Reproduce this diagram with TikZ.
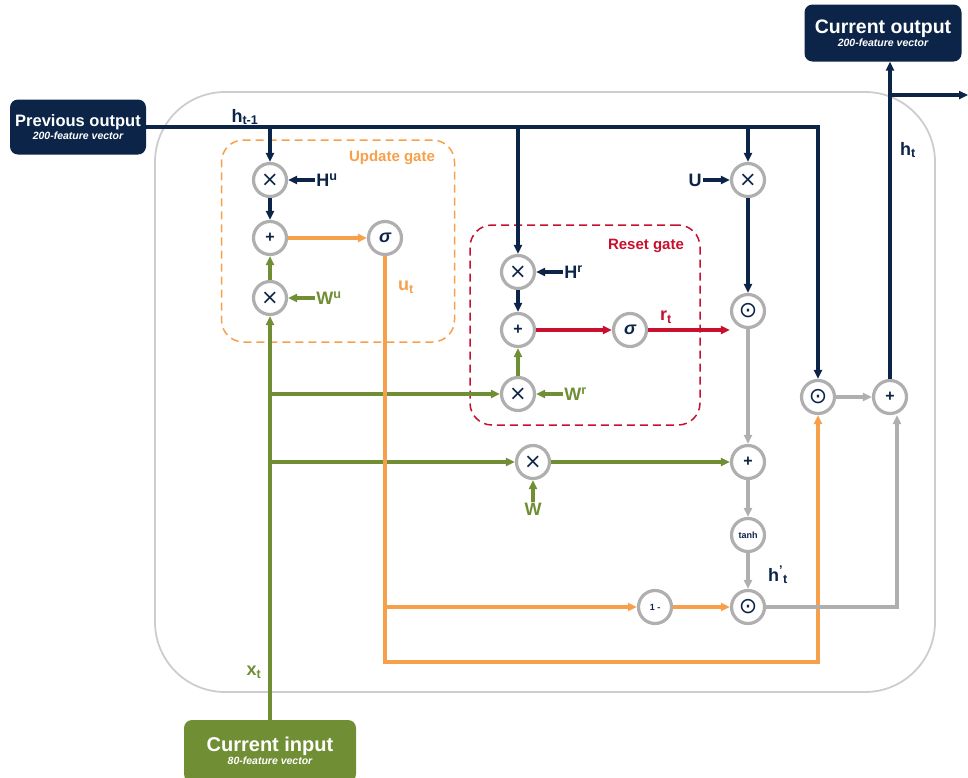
\documentclass[tikz,border=0pt]{standalone}
\usepackage{amsmath}
\usepackage{xcolor}
\usepackage{fontspec}
\setmainfont{Liberation Sans}
\newfontfamily\symfont{DejaVu Sans}
\usepackage{tikz}
\usetikzlibrary{positioning, arrows.meta}

\definecolor{navy}{RGB}{12,36,72}
\definecolor{olive}{RGB}{112,142,52}
\definecolor{gateorange}{RGB}{247,160,75}
\definecolor{gatered}{RGB}{200,16,46}
\definecolor{opgray}{RGB}{175,175,175}
\definecolor{framegray}{RGB}{205,205,205}

\newcommand{\mulsym}{{\symfont\fontsize{21}{21}\selectfont ×}}
\newcommand{\hadsym}{{\symfont\fontsize{22}{22}\selectfont ⊙}}
\newcommand{\addsym}{{\bfseries\fontsize{16}{16}\selectfont +}}
\newcommand{\sigsym}{{\bfseries\itshape\fontsize{18}{18}\selectfont σ}}

\begin{document}
\begin{tikzpicture}[
  x=1pt, y=-1pt,
  op/.style={circle, draw=opgray, line width=3.2pt, fill=white, minimum size=33pt, inner sep=0pt, text=navy},
  small/.style={font=\bfseries\fontsize{9}{9}\selectfont},
  io/.style={rounded corners=8pt, text=white, align=center, inner sep=0pt},
  gate/.style={rounded corners=22pt, dash pattern=on 8pt off 5pt, line width=1.5pt},
  lbl/.style={font=\bfseries\fontsize{18}{18}\selectfont, inner sep=1pt},
  tip/.style={-{Triangle[length=9pt, width=8pt]}},
  nline/.style={draw=navy, line width=3.2pt},
  gline/.style={draw=olive, line width=3.2pt},
  oline/.style={draw=gateorange, line width=3.2pt},
  rline/.style={draw=gatered, line width=3.2pt},
  grline/.style={draw=opgray, line width=3.2pt}
]
  \useasboundingbox (0,0) rectangle (968,777);

  % frame of the cell and the two gates
  \node[draw=framegray, line width=1.8pt, rounded corners=70pt, minimum width=780pt, minimum height=600pt] (cell) at (545,392) {};
  \node[gate, draw=gateorange, minimum width=233pt, minimum height=202pt] (updbox) at (338,241) {};
  \node[gate, draw=gatered, minimum width=230pt, minimum height=200pt] (resbox) at (585,325) {};
  \node[text=gateorange, font=\bfseries\fontsize{15}{15}\selectfont] (updlbl) at (392,158) {Update gate};
  \node[text=gatered, font=\bfseries\fontsize{15}{15}\selectfont] (reslbl) at (646,246) {Reset gate};

  % inputs and output
  \node[io, fill=navy, minimum width=136pt, minimum height=55pt] (prev) at (78,127) {{\bfseries\fontsize{16.5}{18}\selectfont Previous output}\\[1pt] {\bfseries\itshape\fontsize{10.5}{11}\selectfont 200-feature vector}};
  \node[io, fill=navy, minimum width=157pt, minimum height=57pt] (output) at (883,33) {{\bfseries\fontsize{19.5}{20}\selectfont Current output}\\[1pt] {\bfseries\itshape\fontsize{10.5}{11}\selectfont 200-feature vector}};
  \node[io, fill=olive, minimum width=172pt, minimum height=62pt] (input) at (270,751) {{\bfseries\fontsize{20}{21}\selectfont Current input}\\[1pt] {\bfseries\itshape\fontsize{10.5}{11}\selectfont 80-feature vector}};

  % operations
  \node[op] (xHu) at (270,180) {\mulsym};
  \node[op] (plusU) at (270,238) {\addsym};
  \node[op] (sigU) at (385,238) {\sigsym};
  \node[op] (xWu) at (270,298) {\mulsym};
  \node[op] (xHr) at (518,272) {\mulsym};
  \node[op] (plusR) at (518,330) {\addsym};
  \node[op] (sigR) at (630,330) {\sigsym};
  \node[op] (xWr) at (518,394) {\mulsym};
  \node[op] (xU) at (748,180) {\mulsym};
  \node[op] (odotR) at (748,311) {\hadsym};
  \node[op] (xW) at (533,462) {\mulsym};
  \node[op] (plusH) at (748,462) {\addsym};
  \node[op, small] (tanh) at (748,535) {tanh};
  \node[op] (odotH) at (748,607) {\hadsym};
  \node[op, small] (oneMinus) at (655,607) {1 -};
  \node[op] (odotZ) at (818,397) {\hadsym};
  \node[op] (plusOut) at (890,397) {\addsym};

  % weight labels
  \node[lbl, text=navy, right=27pt of xHu] (Hu) {H\textsuperscript{u}};
  \node[lbl, text=olive, right=27pt of xWu] (Wu) {W\textsuperscript{u}};
  \node[lbl, text=navy, right=27pt of xHr] (Hr) {H\textsuperscript{r}};
  \node[lbl, text=olive, right=27pt of xWr] (Wr) {W\textsuperscript{r}};
  \node[lbl, text=navy, left=27pt of xU] (U) {U};
  \node[lbl, text=olive, below=22pt of xW] (W) {W};

  % signal labels
  \node[lbl, text=navy] (hprev) at (245,117) {h\textsubscript{t-1}};
  \node[lbl, text=gateorange] (ut) at (406,287) {u\textsubscript{t}};
  \node[lbl, text=gatered] (rt) at (666,317) {r\textsubscript{t}};
  \node[lbl, text=navy] (hdash) at (778,575) {h\textsuperscript{'}\textsubscript{t}};
  \node[lbl, text=navy] (ht) at (908,150) {h\textsubscript{t}};
  \node[lbl, text=olive] (xt) at (254,672) {x\textsubscript{t}};

  % branch points
  \coordinate (hsplitU) at (270,127);
  \coordinate (hsplitR) at (518,127);
  \coordinate (hsplitC) at (748,127);
  \coordinate (hend) at (818,127);
  \coordinate (xsplitR) at (270,394);
  \coordinate (xsplitW) at (270,462);
  \coordinate (ubranch) at (385,607);
  \coordinate (ubot) at (385,662);
  \coordinate (hsplitOut) at (890,95);
  \coordinate (hright) at (968,95);
  \coordinate (grup) at (897,607);

  % previous output
  \draw[nline, tip] (prev.east) -- (hend) -- (odotZ);
  \draw[nline, tip] (hsplitU) -- (xHu);
  \draw[nline, tip] (hsplitR) -- (xHr);
  \draw[nline, tip] (hsplitC) -- (xU);
  \draw[nline, tip] (Hu) -- (xHu);
  \draw[nline, tip] (xHu) -- (plusU);
  \draw[nline, tip] (Hr) -- (xHr);
  \draw[nline, tip] (xHr) -- (plusR);
  \draw[nline, tip] (U) -- (xU);
  \draw[nline, tip] (xU) -- (odotR);

  % current input
  \draw[gline, tip] (input) -- (xWu);
  \draw[gline, tip] (xsplitR) -- (xWr);
  \draw[gline, tip] (xsplitW) -- (xW);
  \draw[gline, tip] (Wu) -- (xWu);
  \draw[gline, tip] (xWu) -- (plusU);
  \draw[gline, tip] (Wr) -- (xWr);
  \draw[gline, tip] (xWr) -- (plusR);
  \draw[gline, tip] (W) -- (xW);
  \draw[gline, tip] (xW) -- (plusH);

  % gates
  \draw[oline, tip] (plusU) -- (sigU);
  \draw[oline, tip] (sigU) -- (ubot) -| (odotZ);
  \draw[oline, tip] (ubranch) -- (oneMinus);
  \draw[oline, tip] (oneMinus) -- (odotH);
  \draw[rline, tip] (plusR) -- (sigR);
  \draw[rline, tip] (sigR) -- (sigR -| odotR.west);

  % candidate and output
  \draw[grline, tip] (odotR) -- (plusH);
  \draw[grline, tip] (plusH) -- (tanh);
  \draw[grline, tip] (tanh) -- (odotH);
  \draw[grline, tip] (odotH) -- (grup) -- (grup |- plusOut.south);
  \draw[grline, tip] (odotZ) -- (plusOut);
  \draw[nline, tip] (plusOut) -- (plusOut |- output.south);
  \draw[nline, tip] (hsplitOut) -- (hright);
\end{tikzpicture}
\end{document}
